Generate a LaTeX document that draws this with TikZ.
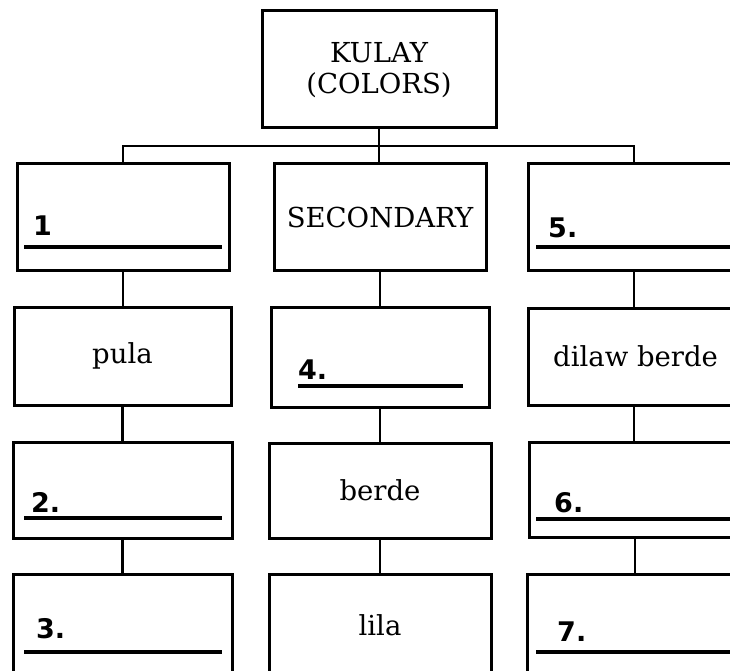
\documentclass[tikz,border=0pt]{standalone}
\usepackage{fontspec}
\setmainfont{DejaVu Serif}
\newfontfamily\numfont{DejaVu Sans}
\begin{document}
\begin{tikzpicture}[x=1pt,y=-1pt,
  box/.style={draw, line width=3pt, rectangle, inner sep=0pt},
  conn/.style={line width=2.6pt},
  uline/.style={line width=4.5pt},
  txt/.style={font=\fontsize{27.5}{31}\selectfont, align=center},
  num/.style={font=\numfont\bfseries\fontsize{27}{30}\selectfont, anchor=base west, inner sep=0pt}]
\useasboundingbox (0,0) rectangle (730,671);
\clip (0,0) rectangle (730,671);
% boxes
\node[box, minimum width=234pt, minimum height=117pt] (top) at (379,69.5) {};
\node[txt] (toptxt) at (379,70) {KULAY\\(COLORS)};
\node[box, minimum width=212pt, minimum height=106pt] (L1) at (123,217) {};
\node[box, minimum width=212pt, minimum height=106pt, txt] (M1) at (380,217) {SECONDARY};
\node[box, minimum width=212pt, minimum height=106pt] (R1) at (634,217) {};
\node[box, minimum width=217pt, minimum height=98pt, txt] (L2) at (122.5,356) {pula};
\node[box, minimum width=218pt, minimum height=100pt] (M2) at (380,357) {};
\node[box, minimum width=212pt, minimum height=97pt, txt] (R2) at (634,356.5) {};
\node[txt, anchor=west, inner sep=0pt] (R2txt) at (553,356.5) {dilaw berde};
\node[box, minimum width=219pt, minimum height=96pt] (L3) at (122.5,490) {};
\node[box, minimum width=222pt, minimum height=95pt, txt] (M3) at (380,490.5) {berde};
\node[box, minimum width=212pt, minimum height=95pt] (R3) at (635,489.5) {};
\node[box, minimum width=219pt, minimum height=110pt] (L4) at (122.5,629) {};
\node[box, minimum width=222pt, minimum height=110pt] (M4) at (380,629) {};
\node[txt] (M4txt) at (380,625) {lila};
\node[box, minimum width=212pt, minimum height=110pt] (R4) at (633,629) {};
% connectors
\coordinate (bar) at (379,146);
\draw[conn] (top.south) -- (top.south |- M1.north);
\draw[conn] (L1.north) |- (bar) -| (R1.north);
\draw[conn] (L1.south) -- (L1.south |- L2.north);
\draw[conn] (L2.south) -- (L2.south |- L3.north);
\draw[conn] (L3.south) -- (L3.south |- L4.north);
\draw[conn] (M1.south) -- (M1.south |- M2.north);
\draw[conn] (M2.south) -- (M2.south |- M3.north);
\draw[conn] (M3.south) -- (M3.south |- M4.north);
\draw[conn] (R1.south) -- (R1.south |- R2.north);
\draw[conn] (R2.south) -- (R2.south |- R3.north);
\draw[conn] (R3.south) -- (R3.south |- R4.north);
% fill-in labels
\node[num] (n1) at (33,235) {1};
\draw[uline] (24,247) -- (222,247);
\node[num] (n2) at (31,512) {2.};
\draw[uline] (24,518) -- (222,518);
\node[num] (n3) at (36,638) {3.};
\draw[uline] (24,652) -- (222,652);
\node[num] (n4) at (298,379) {4.};
\draw[uline] (298,386) -- (463,386);
\node[num] (n5) at (548,237) {5.};
\draw[uline] (536,247) -- (740,247);
\node[num] (n6) at (554,512) {6.};
\draw[uline] (536,519) -- (740,519);
\node[num] (n7) at (557,641) {7.};
\draw[uline] (536,652) -- (740,652);
\end{tikzpicture}
\end{document}
